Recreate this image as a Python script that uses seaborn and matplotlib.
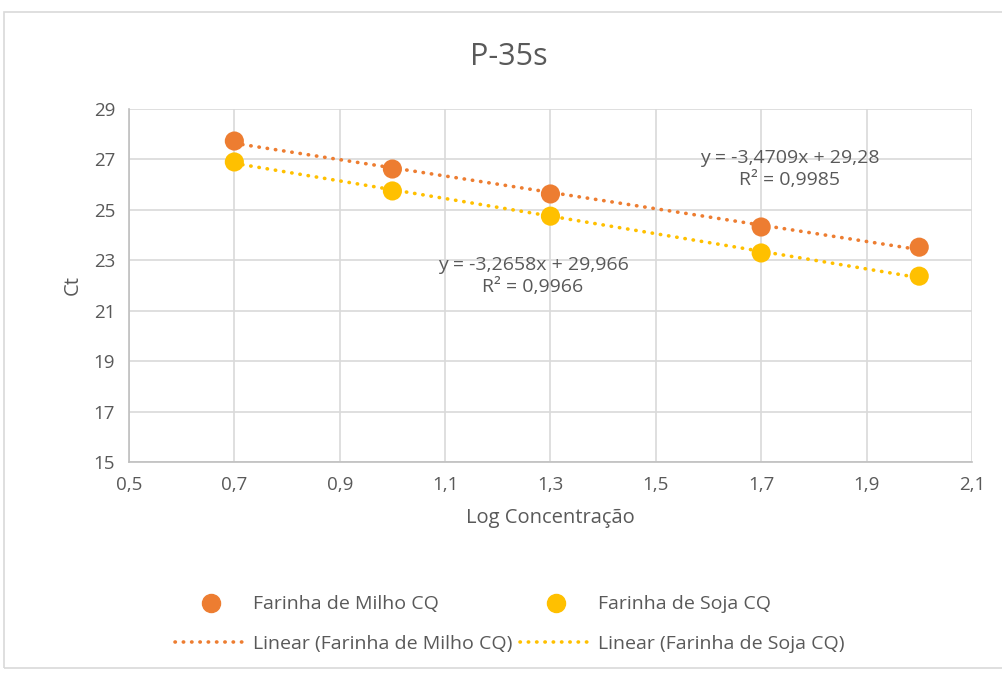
import numpy as np
import pandas as pd
import matplotlib
matplotlib.use("Agg")
import matplotlib.pyplot as plt
import seaborn as sns
from matplotlib.lines import Line2D
from matplotlib.patches import Rectangle

# Data
log_conc = [0.7, 1.0, 1.3, 1.7, 2.0]
ct_milho = [27.73, 26.62, 25.63, 24.32, 23.52]
ct_soja = [26.90, 25.75, 24.75, 23.29, 22.37]
series_names = ["Farinha de Milho CQ", "Farinha de Soja CQ"]
eq_milho = ["y = -3,4709x + 29,28", "R² = 0,9985"]
eq_soja = ["y = -3,2658x + 29,966", "R² = 0,9966"]
x_ticks = [0.5, 0.7, 0.9, 1.1, 1.3, 1.5, 1.7, 1.9, 2.1]
y_ticks = [15, 17, 19, 21, 23, 25, 27, 29]

sns.set_theme(style="white")
plt.rcParams['font.family'] = ['Open Sans', 'DejaVu Sans']
txt = "#595959"
c_milho = "#ED7D31"
c_soja = "#FFC000"

fig = plt.figure(figsize=(10.03, 6.75), dpi=100)
ax = fig.add_axes([0.1286, 0.3156, 0.969 - 0.1286, 0.8385 - 0.3156])

df = pd.DataFrame({
    "x": log_conc * 2,
    "y": ct_milho + ct_soja,
    "s": [series_names[0]] * 5 + [series_names[1]] * 5,
})

dot = (0, (0.1, 2.2))
for name, col in zip(series_names, [c_milho, c_soja]):
    sub = df[df.s == name]
    sns.regplot(data=sub, x="x", y="y", ax=ax, ci=None, scatter=False,
                line_kws=dict(color=col, lw=2.6, linestyle=dot,
                              dash_capstyle="round", zorder=2))
sns.scatterplot(data=df, x="x", y="y", hue="s", palette=[c_milho, c_soja],
                s=190, edgecolor="none", ax=ax, zorder=3, legend=False)

ax.set_xlim(0.5, 2.1)
ax.set_ylim(15, 29)
ax.set_xticks(x_ticks)
ax.set_yticks(y_ticks)
ax.set_xticklabels([f"{v:.1f}".replace(".", ",") for v in x_ticks])
ax.set_yticklabels([str(v) for v in y_ticks])
ax.grid(True, color="#d9d9d9", lw=1.2)
ax.set_axisbelow(True)
for sp in ["top", "right"]:
    ax.spines[sp].set_visible(False)
for sp in ["left", "bottom"]:
    ax.spines[sp].set_color("#bfbfbf")
    ax.spines[sp].set_linewidth(1.2)
ax.tick_params(axis="both", colors=txt, labelsize=13.5, length=0, pad=10)
ax.set_xlabel("Log Concentração", fontsize=14.5, color=txt, labelpad=10)
ax.set_ylabel("Ct", fontsize=14.5, color=txt, labelpad=8)

fig.text(0.5075, 1 - 57 / 675, "P-35s", ha="center", va="center",
         fontsize=22, color=txt)

ax.annotate("\n".join(eq_milho), xy=(790 / 1003, 1 - 169 / 675),
            xycoords="figure fraction", ha="center", va="center",
            fontsize=14, color=txt, linespacing=1.3)
ax.annotate("\n".join(eq_soja), xy=(533 / 1003, 1 - 276 / 675),
            xycoords="figure fraction", ha="center", va="center",
            fontsize=14, color=txt, linespacing=1.3)

handles = [
    Line2D([], [], marker="o", ls="none", color=c_milho, markersize=13),
    Line2D([], [], color=c_milho, lw=2.6, linestyle=dot, dash_capstyle="round"),
    Line2D([], [], marker="o", ls="none", color=c_soja, markersize=13),
    Line2D([], [], color=c_soja, lw=2.6, linestyle=dot, dash_capstyle="round"),
]
labels = [series_names[0], f"Linear ({series_names[0]})",
          series_names[1], f"Linear ({series_names[1]})"]
leg = fig.legend(handles, labels, ncol=2, loc="center",
                 bbox_to_anchor=(0.508, 1 - 624 / 675), frameon=False,
                 fontsize=14, handlelength=3.7, handletextpad=0.3,
                 columnspacing=0.4, labelspacing=1.1, labelcolor=txt)

fig.patches.append(Rectangle((4 / 1003, 1 - 668 / 675), 1.1, (668 - 12) / 675,
                             transform=fig.transFigure, fill=False,
                             edgecolor="#d9d9d9", lw=1.2, zorder=0))

fig.savefig("out.png", dpi=100)
